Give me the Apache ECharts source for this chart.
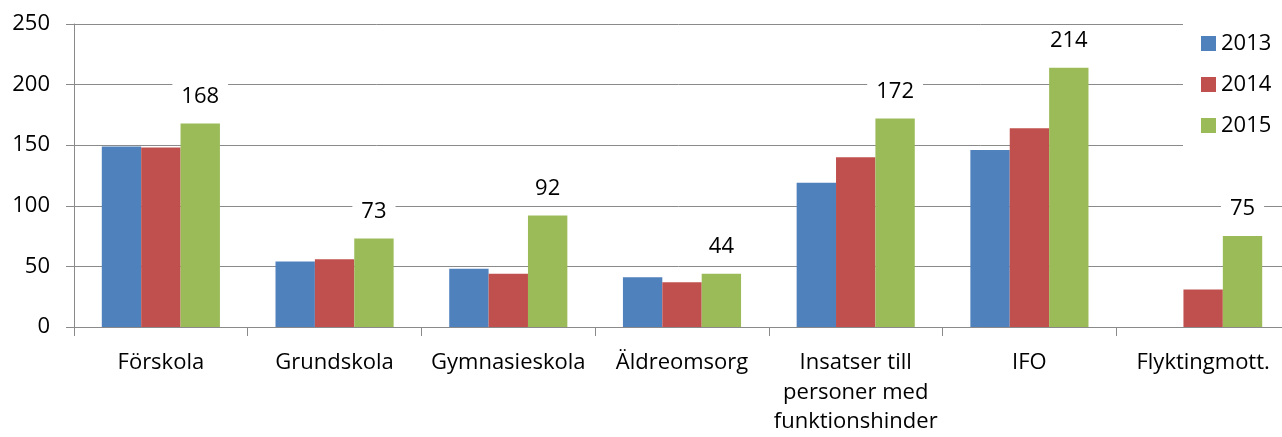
<!DOCTYPE html>
<html>
<head>
<meta charset="utf-8">
<script src="https://cdn.jsdelivr.net/npm/echarts@6/dist/echarts.min.js"></script>
<style>
html,body{margin:0;padding:0;background:#fff;}
#chart{width:1282px;height:437px;}
</style>
</head>
<body>
<div id="chart"></div>
<script>
const categories = ['Förskola', 'Grundskola', 'Gymnasieskola', 'Äldreomsorg', 'Insatser till\npersoner med\nfunktionshinder', 'IFO', 'Flyktingmott.'];
const seriesNames = ['2013', '2014', '2015'];
const values2013 = [149, 54, 48, 41, 119, 146, 0];
const values2014 = [148, 56, 44, 37, 140, 164, 31];
const values2015 = [168, 73, 92, 44, 172, 214, 75];
const yTicks = { min: 0, max: 250, interval: 50 };

const FONT = "'Open Sans', sans-serif";
const GRID_COLOR = '#8a8a8a';
const colors = ['#4F81BD', '#C0504D', '#9BBB59'];

const chart = echarts.init(document.getElementById('chart'), null, { renderer: 'canvas' });

function barSeries(name, data, color, withLabel) {
  const s = {
    name: name,
    type: 'bar',
    data: data,
    barGap: '0%',
    barCategoryGap: '32%',
    itemStyle: { color: color },
    emphasis: { disabled: true },
    animation: false
  };
  if (withLabel) {
    s.label = {
      show: true,
      position: 'top',
      distance: 12,
      color: '#000',
      fontFamily: FONT,
      fontSize: 22,
      lineHeight: 26,
      backgroundColor: '#fff',
      padding: [2, 9, 2, 9]
    };
  }
  return s;
}

chart.setOption({
  animation: false,
  backgroundColor: '#fff',
  grid: { left: 74, top: 24, width: 1216, height: 303, containLabel: false, outerBoundsMode: 'none' },
  legend: {
    orient: 'vertical',
    left: 1183,
    top: 22,
    padding: [10, 12, 10, 18],
    backgroundColor: '#fff',
    itemWidth: 15,
    itemHeight: 15,
    itemGap: 18,
    icon: 'rect',
    data: seriesNames,
    textStyle: { fontFamily: FONT, fontSize: 22, lineHeight: 23, color: '#000', padding: [0, 0, 0, 0] }
  },
  xAxis: {
    type: 'category',
    data: categories,
    axisLine: { show: true, lineStyle: { color: GRID_COLOR, width: 1 } },
    axisTick: { show: true, length: 9, lineStyle: { color: GRID_COLOR } },
    axisLabel: {
      interval: 0,
      margin: 21,
      color: '#000',
      fontFamily: FONT,
      fontSize: 22,
      lineHeight: 29.5
    },
    z: 3
  },
  yAxis: {
    type: 'value',
    min: yTicks.min,
    max: yTicks.max,
    interval: yTicks.interval,
    axisLine: { show: true, lineStyle: { color: GRID_COLOR, width: 1 } },
    axisTick: { show: true, length: 8, lineStyle: { color: GRID_COLOR } },
    splitLine: { show: true, lineStyle: { color: GRID_COLOR, width: 1 } },
    axisLabel: { margin: 24, color: '#000', fontFamily: FONT, fontSize: 22 }
  },
  series: [
    barSeries(seriesNames[0], values2013, colors[0], false),
    barSeries(seriesNames[1], values2014, colors[1], false),
    barSeries(seriesNames[2], values2015, colors[2], true)
  ]
});
</script>
</body>
</html>
